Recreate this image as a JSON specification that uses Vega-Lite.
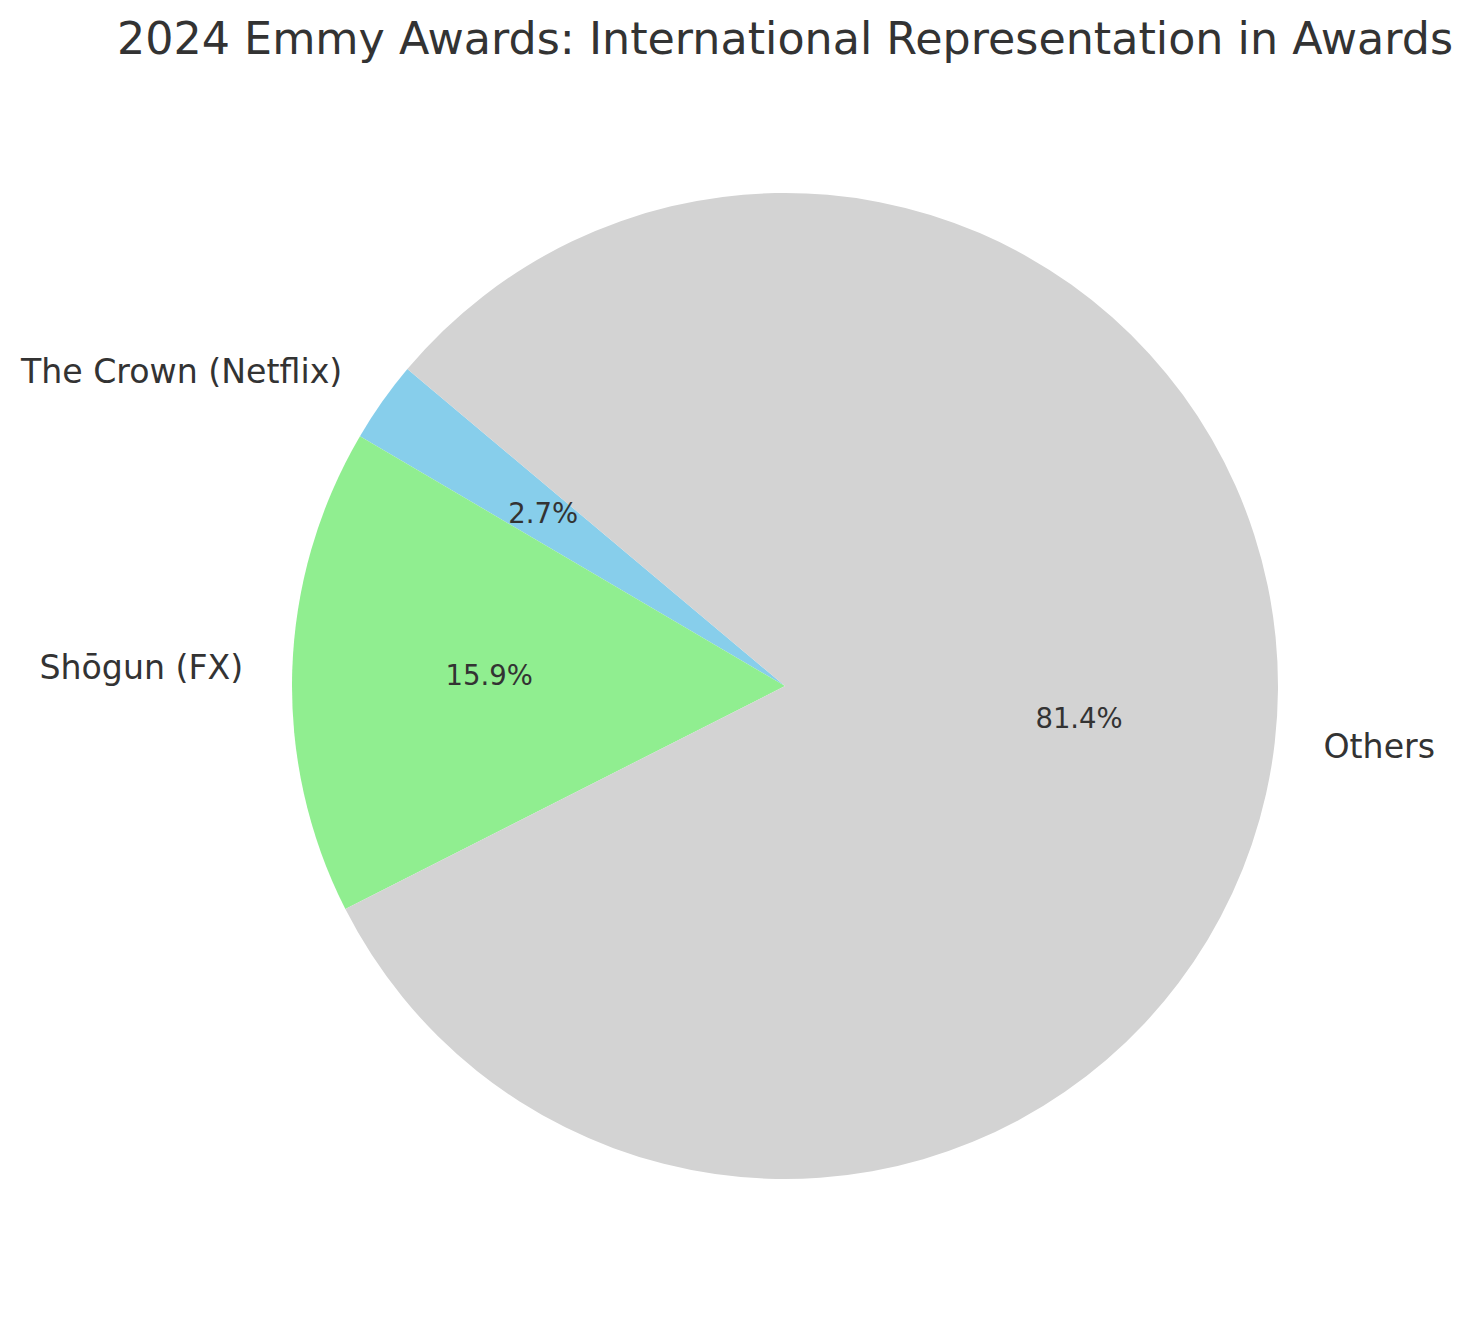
{
  "$schema": "https://vega.github.io/schema/vega-lite/v6.json",
  "width": 1380,
  "height": 1200,
  "autosize": {"type": "none"},
  "padding": {"left": 95, "top": 86, "right": 0, "bottom": 36},
  "background": "white",
  "config": {"view": {"stroke": null}, "font": "DejaVu Sans"},
  "title": {
    "text": "2024 Emmy Awards: International Representation in Awards",
    "font": "DejaVu Sans",
    "fontSize": 44.4,
    "fontWeight": "normal",
    "color": "#333333",
    "anchor": "middle",
    "frame": "group",
    "baseline": "alphabetic",
    "offset": -12
  },
  "data": {
    "values": [
      {"show": "The Crown (Netflix)", "awards": 3},
      {"show": "Shōgun (FX)", "awards": 18},
      {"show": "Others", "awards": 92}
    ]
  },
  "encoding": {
    "theta": {"field": "awards", "type": "quantitative", "stack": true, "scale": {"range": [5.41052, 11.69371]}},
    "order": {"field": "awards", "type": "quantitative", "sort": "descending"}
  },
  "layer": [
    {
      "mark": {"type": "arc", "outerRadius": 493},
      "encoding": {
        "color": {
          "field": "show",
          "type": "nominal",
          "scale": {"domain": ["The Crown (Netflix)", "Shōgun (FX)", "Others"], "range": ["#87CEEB", "#90EE90", "#D3D3D3"]},
          "legend": null
        }
      }
    },
    {
      "transform": [
        {"joinaggregate": [{"op": "sum", "field": "awards", "as": "total"}]},
        {"calculate": "datum.awards / datum.total", "as": "share"}
      ],
      "mark": {"type": "text", "radius": 296, "fontSize": 27.5, "color": "#333333", "align": "center", "baseline": "middle", "font": "DejaVu Sans"},
      "encoding": {"text": {"field": "share", "type": "quantitative", "format": ".1%"}}
    },
    {
      "mark": {"type": "text", "radius": 542, "fontSize": 33.2, "color": "#333333", "align": "right", "baseline": "middle", "font": "DejaVu Sans"},
      "encoding": {"text": {"condition": {"test": "datum.show === 'Others'", "value": ""}, "field": "show", "type": "nominal"}}
    },
    {
      "mark": {"type": "text", "radius": 542, "fontSize": 33.2, "color": "#333333", "align": "left", "baseline": "middle", "font": "DejaVu Sans"},
      "encoding": {"text": {"condition": {"test": "datum.show !== 'Others'", "value": ""}, "field": "show", "type": "nominal"}}
    }
  ]
}
